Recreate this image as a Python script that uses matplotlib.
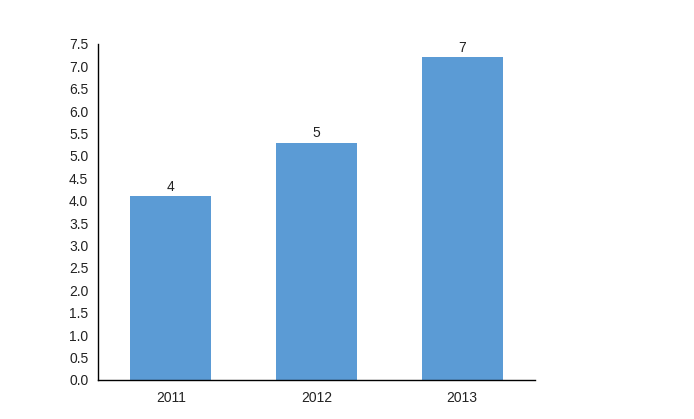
import matplotlib
matplotlib.use("Agg")
import matplotlib.pyplot as plt
import numpy as np

# ----------------------------
# Data
# ----------------------------
years = ["2011", "2012", "2013"]
values = [4.1, 5.3, 7.2]
labels = ["4", "5", "7"]

# ----------------------------
# Plot
# ----------------------------
plt.rcParams["font.family"] = ["Liberation Sans", "DejaVu Sans"]

fig = plt.figure(figsize=(6.94, 4.19), dpi=100)
ax = fig.add_axes([0.1412, 0.0931, 0.6297, 0.802])

x = np.arange(len(years))
bars = ax.bar(x, values, width=0.555, color="#5B9BD5")

for rect, lab in zip(bars, labels):
    ax.annotate(lab, (rect.get_x() + rect.get_width() / 2, rect.get_height()),
                xytext=(0, 2), textcoords="offset points",
                ha="center", va="bottom", fontsize=10, color="#222222")

ax.set_xlim(-0.5, 2.5)
ax.set_ylim(0, 7.5)
yt = np.arange(0, 7.51, 0.5)
ax.set_yticks(yt)
ax.set_yticklabels([f"{v:.1f}" for v in yt])
ax.set_xticks(x)
ax.set_xticklabels(years)
ax.tick_params(axis="both", length=0, labelsize=10, colors="#222222")
ax.tick_params(axis="y", pad=7)
ax.tick_params(axis="x", pad=8)

for side in ["top", "right"]:
    ax.spines[side].set_visible(False)
for side in ["left", "bottom"]:
    ax.spines[side].set_color("black")
    ax.spines[side].set_linewidth(1)

fig.savefig("out.png", dpi=100)
plt.close(fig)
